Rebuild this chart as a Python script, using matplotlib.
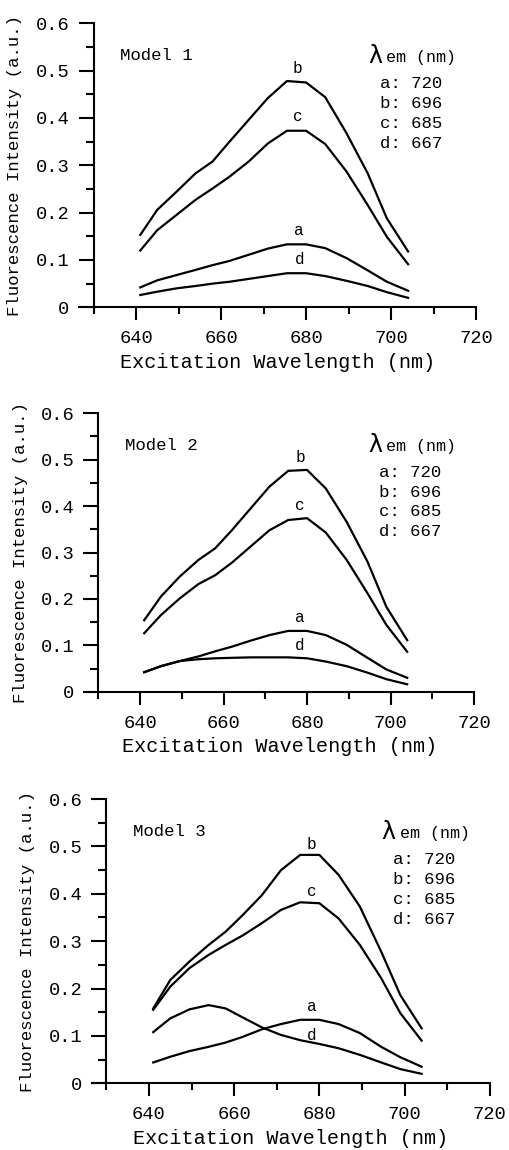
import matplotlib
matplotlib.use("Agg")
import matplotlib.pyplot as plt
import numpy as np

wavelength = [641, 645, 649.5, 654, 658, 662, 666.5, 671, 675.5, 680, 684.5, 689.5, 694.5, 699, 704]

model1_a = [0.042, 0.057, 0.068, 0.079, 0.089, 0.098, 0.111, 0.124, 0.133, 0.133, 0.125, 0.104, 0.078, 0.054, 0.035]
model1_b = [0.153, 0.206, 0.244, 0.283, 0.308, 0.350, 0.396, 0.442, 0.478, 0.475, 0.444, 0.368, 0.283, 0.188, 0.118]
model1_c = [0.120, 0.163, 0.195, 0.227, 0.251, 0.276, 0.308, 0.346, 0.373, 0.373, 0.345, 0.287, 0.216, 0.149, 0.091]
model1_d = [0.026, 0.033, 0.040, 0.045, 0.050, 0.054, 0.060, 0.066, 0.072, 0.072, 0.066, 0.056, 0.045, 0.032, 0.020]

model2_a = [0.042, 0.055, 0.066, 0.076, 0.087, 0.097, 0.110, 0.122, 0.131, 0.131, 0.122, 0.101, 0.073, 0.048, 0.030]
model2_b = [0.154, 0.205, 0.248, 0.284, 0.309, 0.348, 0.395, 0.442, 0.476, 0.478, 0.438, 0.366, 0.280, 0.183, 0.111]
model2_c = [0.126, 0.165, 0.201, 0.232, 0.251, 0.278, 0.313, 0.348, 0.370, 0.374, 0.343, 0.284, 0.212, 0.144, 0.086]
model2_d = [0.042, 0.055, 0.066, 0.070, 0.072, 0.073, 0.074, 0.074, 0.074, 0.072, 0.065, 0.055, 0.041, 0.027, 0.016]

model3_a = [0.044, 0.056, 0.068, 0.077, 0.086, 0.098, 0.114, 0.125, 0.134, 0.134, 0.125, 0.106, 0.077, 0.055, 0.035]
model3_b = [0.158, 0.218, 0.257, 0.292, 0.320, 0.355, 0.397, 0.450, 0.482, 0.482, 0.440, 0.373, 0.278, 0.186, 0.116]
model3_c = [0.155, 0.204, 0.243, 0.271, 0.292, 0.312, 0.338, 0.366, 0.382, 0.380, 0.348, 0.292, 0.222, 0.148, 0.090]
model3_d = [0.108, 0.137, 0.156, 0.165, 0.158, 0.139, 0.118, 0.102, 0.091, 0.083, 0.074, 0.060, 0.044, 0.030, 0.020]

models = ["Model 1", "Model 2", "Model 3"]
series = [
    {"a": model1_a, "b": model1_b, "c": model1_c, "d": model1_d},
    {"a": model2_a, "b": model2_b, "c": model2_c, "d": model2_d},
    {"a": model3_a, "b": model3_b, "c": model3_c, "d": model3_d},
]
# curve label positions (x, y) in data units
label_pos = [
    {"b": (678, 0.489), "c": (678, 0.388), "a": (678.3, 0.146), "d": (678.5, 0.085)},
    {"b": (678.3, 0.489), "c": (678.3, 0.386), "a": (678.3, 0.144), "d": (678.3, 0.083)},
    {"b": (678, 0.489), "c": (678.3, 0.388), "a": (678.3, 0.146), "d": (678.3, 0.084)},
]
legend_keys = ["a", "b", "c", "d"]
legend_vals = ["720", "696", "685", "667"]

xticks_major = [640, 660, 680, 700, 720]
xticks_minor = [630, 650, 670, 690, 710]
yticks_major = [0, 0.1, 0.2, 0.3, 0.4, 0.5, 0.6]
yticks_labels = ["0", "0.1", "0.2", "0.3", "0.4", "0.5", "0.6"]
yticks_minor = [0.05, 0.15, 0.25, 0.35, 0.45, 0.55]

W, H = 510, 1150
# axes boxes in pixels: left, top, width, height
boxes = [
    (79.5, 23.3, 396.6, 284.0),
    (84.5, 413.3, 389.5, 278.4),
    (92.3, 799.0, 397.5, 284.3),
]
ylabel_x = [22, 28, 35]

mono = "Liberation Mono"
fig = plt.figure(figsize=(W / 100, H / 100), dpi=100)

for i, (l, t, w, h) in enumerate(boxes):
    ax = fig.add_axes([l / W, 1 - (t + h) / H, w / W, h / H])
    for k in ["a", "b", "c", "d"]:
        ax.plot(wavelength, series[i][k], color="black", lw=1.6, solid_joinstyle="miter")
    for k, (lx, ly) in label_pos[i].items():
        ax.text(lx, ly, k, ha="center", va="bottom", fontsize=11.5, family=mono)
    ax.set_xlim(626.7, 720)
    ax.set_ylim(0, 0.6)
    ax.spines["top"].set_visible(False)
    ax.spines["right"].set_visible(False)
    ax.spines["left"].set_position(("data", 630))
    ax.spines["left"].set_bounds(0, 0.6)
    for s in ["left", "bottom"]:
        ax.spines[s].set_linewidth(1.5)
    ax.set_xticks(xticks_major)
    ax.set_xticks(xticks_minor, minor=True)
    ax.set_yticks(yticks_major)
    ax.set_yticklabels(yticks_labels)
    ax.set_yticks(yticks_minor, minor=True)
    ax.tick_params(axis="x", which="major", direction="out", length=9.5, width=1.5, pad=7, labelsize=13.5)
    ax.tick_params(axis="x", which="minor", direction="out", length=5, width=1.5)
    ax.tick_params(axis="y", which="major", direction="out", length=10.8, width=1.5, pad=6.5, labelsize=13.5)
    ax.tick_params(axis="y", which="minor", direction="out", length=5.5, width=1.5)
    for lab in ax.get_xticklabels() + ax.get_yticklabels():
        lab.set_family(mono)
    ax.set_xlabel("Excitation Wavelength (nm)", family=mono, fontsize=14.5, labelpad=4)
    ax.set_ylabel("Fluorescence Intensity (a.u.)", family=mono, fontsize=12.5)
    ax.yaxis.set_label_coords((ylabel_x[i] - l) / w, 0.5)
    # model text
    ax.text(636.3, 0.531, models[i], family=mono, fontsize=12.5, va="center", ha="left")
    # lambda em heading
    ax.text(694.6, 0.531, "λ", family="DejaVu Sans", fontsize=17, va="center", ha="left")
    ax.text(698.9, 0.528, "em (nm)", family=mono, fontsize=12, va="center", ha="left")
    for j, (kk, vv) in enumerate(zip(legend_keys, legend_vals)):
        ax.text(697.3, 0.472 - j * 0.042, f"{kk}: {vv}", family=mono, fontsize=12.5, va="center", ha="left")

fig.savefig("out.png", dpi=100)
